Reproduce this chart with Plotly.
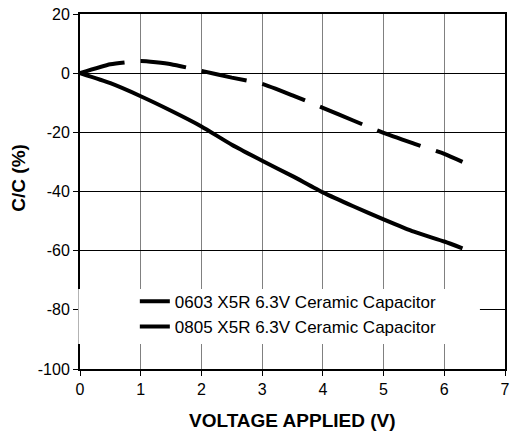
import plotly.graph_objects as go

# Voltage points (V)
voltage = [0, 0.5, 1, 1.5, 2, 2.5, 3, 3.5, 4, 4.5, 5, 5.5, 6, 6.3]

# Capacitance change (%)
cap_0603 = [0, -3.4, -7.8, -12.7, -18, -24.2, -29.6, -34.8, -40.3, -45, -49.4, -53.6, -56.9, -59.2]
cap_0805 = [0, 3.0, 4.1, 3.0, 0.8, -1.5, -3.6, -7.5, -11.7, -16, -20.2, -23.8, -27.3, -30]

names = ['0603 X5R 6.3V Ceramic Capacitor', '0805 X5R 6.3V Ceramic Capacitor']

x_ticks = [0, 1, 2, 3, 4, 5, 6, 7]
y_ticks = [20, 0, -20, -40, -60, -80, -100]
y_tick_labels = ['20', '0', '-20', '-40', '-60', '-80', '-100']

FONT = 'Liberation Sans, Arial, sans-serif'

fig = go.Figure()

fig.add_trace(go.Scatter(
    x=voltage, y=cap_0603, name=names[0], mode='lines',
    line=dict(color='black', width=4, shape='spline', smoothing=0.5)
))
fig.add_trace(go.Scatter(
    x=voltage, y=cap_0805, name=names[1], mode='lines',
    line=dict(color='black', width=4, dash='46px,16px', shape='spline', smoothing=0.5)
))

# white box behind the legend (hides grid and axis line like the original)
fig.add_shape(
    type='rect', xref='paper', yref='paper',
    x0=-0.004, x1=0.941, y0=0.0704, y1=0.2254,
    fillcolor='white', line=dict(width=0), layer='above'
)

fig.update_xaxes(
    range=[0, 7], tickvals=x_ticks, ticks='outside', ticklen=5,
    tickcolor='black', showline=True, linecolor='black', linewidth=2,
    mirror=True, showgrid=True, gridcolor='#808080', gridwidth=1,
    zeroline=False, tickfont=dict(size=16, color='black'), automargin=False
)
fig.update_yaxes(
    range=[-100, 20], tickvals=y_ticks, ticktext=y_tick_labels,
    ticks='outside', ticklen=5,
    tickcolor='black', showline=True, linecolor='black', linewidth=2,
    mirror=True, showgrid=True, gridcolor='black', gridwidth=1,
    zeroline=False, tickfont=dict(size=16, color='black'), automargin=False
)

# axis titles
fig.add_annotation(
    text='<b>C/C (%)</b>', xref='paper', yref='paper',
    x=-0.1435, y=0.539, xanchor='center', yanchor='middle',
    textangle=-90, showarrow=False,
    font=dict(size=19, color='black')
)
fig.add_annotation(
    text='<b>VOLTAGE APPLIED (V)</b>', xref='paper', yref='paper',
    x=0.5, y=-0.1437, xanchor='center', yanchor='middle', showarrow=False,
    font=dict(size=19, color='black')
)

fig.update_layout(
    width=513, height=436,
    margin=dict(l=80, r=8, t=14, b=67),
    paper_bgcolor='white', plot_bgcolor='white',
    font=dict(family=FONT, color='black'),
    showlegend=True,
    legend=dict(
        x=0.129, y=0.24, xanchor='left', yanchor='top',
        bgcolor='rgba(0,0,0,0)', font=dict(size=17),
        tracegroupgap=0
    )
)

# drop the default 8px page margin so the figure sits at the window corner
fig.write_html('out.html', config={'displayModeBar': False},
               post_script="document.body.style.margin='0';")
